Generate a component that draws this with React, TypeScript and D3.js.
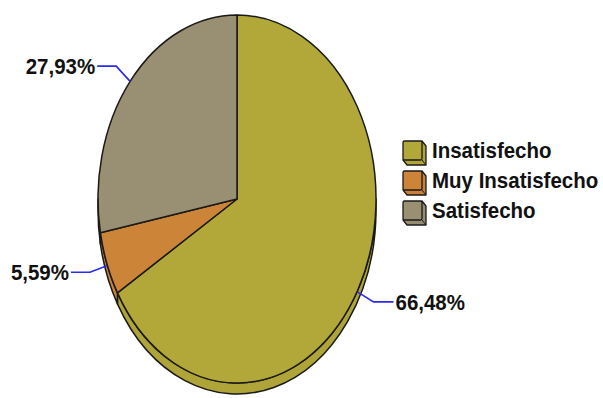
import React from "react";
import * as d3 from "d3";

const categories = ["Insatisfecho", "Muy Insatisfecho", "Satisfecho"];
const values = [66.48, 5.59, 27.93];
const labels = ["66,48%", "5,59%", "27,93%"];
const colors = ["#B2A83A", "#CC8438", "#998F72"];
const sideColors = ["#AEA438", "#C88136", "#958C70"];

const W = 603, H = 398;
const cx = 237, cy = 199, rx = 139, ry = 184, depth = 11;
const FONT = "'Liberation Sans', Arial, sans-serif";

function pt(t: number, dy = 0, k = 1): [number, number] {
  return [cx + k * rx * Math.sin(t), cy - k * ry * Math.cos(t) + dy];
}

function Txt(props: { x: number; y: number; anchor?: string; children: React.ReactNode }) {
  return (
    <text transform={`translate(${props.x},${props.y}) scale(1,1.12)`} textAnchor={props.anchor || "start"}
      fontFamily={FONT} fontWeight="bold" fontSize={20.5} fill="#111">
      {props.children}
    </text>
  );
}

export default function App() {
  const pie = d3.pie<number>().sort(null).startAngle(0).endAngle(2 * Math.PI);
  const arcs = pie(values);
  const arcGen = d3.arc<d3.PieArcDatum<number>>().innerRadius(0).outerRadius(1);

  const sides = arcs.map((a, i) => {
    const a0 = Math.max(a.startAngle, Math.PI / 2);
    const a1 = Math.min(a.endAngle, (3 * Math.PI) / 2);
    if (a1 <= a0) return null;
    const p0 = pt(a0), p1 = pt(a1), q1 = pt(a1, depth), q0 = pt(a0, depth);
    const d = `M${p0[0]},${p0[1]} A${rx},${ry} 0 0 1 ${p1[0]},${p1[1]} L${q1[0]},${q1[1]} A${rx},${ry} 0 0 0 ${q0[0]},${q0[1]} Z`;
    return <path key={"s" + i} d={d} fill={sideColors[i]} stroke="#1a1a1a" strokeWidth={1.5} strokeLinejoin="round" />;
  });

  const leaders = arcs.map((a, i) => {
    const mid = (a.startAngle + a.endAngle) / 2;
    const e = pt(mid, mid > Math.PI / 2 && mid < (3 * Math.PI) / 2 ? 2 : 0);
    const el = pt(mid, 0, 1.13);
    const right = Math.sin(mid) > 0;
    const hx = el[0] + (right ? 20 : -19);
    return (
      <g key={"l" + i}>
        <polyline points={`${e[0]},${e[1]} ${el[0]},${el[1]} ${hx},${el[1]}`} fill="none" stroke="#2A2AF0" strokeWidth={1.6} />
        <Txt x={hx + (right ? 2 : -2)} y={el[1] + 8} anchor={right ? "start" : "end"}>{labels[i]}</Txt>
      </g>
    );
  });

  const legendX = 403, legendY0 = 141, legendStep = 30, box = 19, off = 4;

  return (
    <svg width={W} height={H} style={{ position: "absolute", left: 0, top: 0, background: "#fff" }}>
      {sides}
      <g transform={`translate(${cx},${cy}) scale(${rx},${ry})`}>
        {arcs.map((a, i) => (
          <path key={"t" + i} d={arcGen(a) || ""} fill={colors[i]} stroke="#1a1a1a" strokeWidth={1.5}
            vectorEffect="non-scaling-stroke" strokeLinejoin="round" />
        ))}
      </g>
      {leaders}
      {categories.map((c, i) => {
        const y = legendY0 + i * legendStep;
        const x = legendX;
        const back = `${x + box},${y} ${x + box + off},${y + off + 1} ${x + box + off},${y + box + off + 1} ${x + off},${y + box + off + 1} ${x},${y + box}`;
        return (
          <g key={"g" + i}>
            <polygon points={back} fill={sideColors[i]} stroke="#1a1a1a" strokeWidth={1.3} strokeLinejoin="round" />
            <line x1={x + box} y1={y + box} x2={x + box + off} y2={y + box + off + 1} stroke="#1a1a1a" strokeWidth={1} />
            <rect x={x} y={y} width={box} height={box} rx={1.5} fill={colors[i]} stroke="#1a1a1a" strokeWidth={1.3} />
            <Txt x={432} y={y + 17}>{c}</Txt>
          </g>
        );
      })}
    </svg>
  );
}
